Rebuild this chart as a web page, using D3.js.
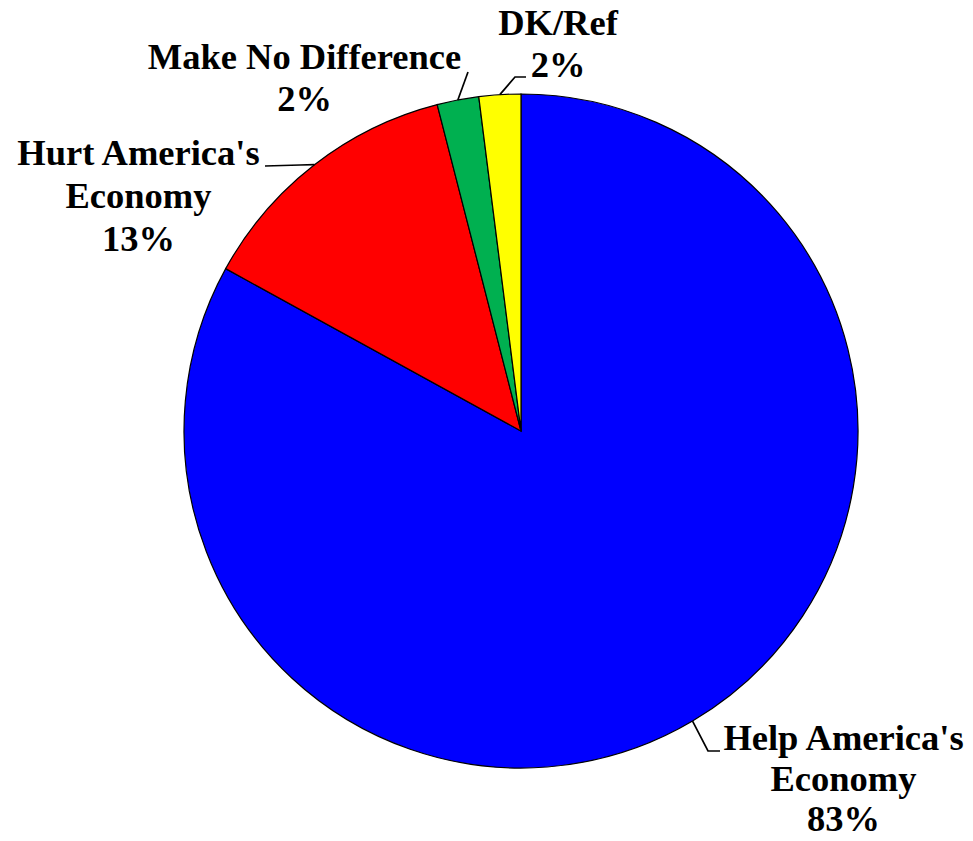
<!DOCTYPE html>
<html>
<head>
<meta charset="utf-8">
<script src="https://cdn.jsdelivr.net/npm/d3@7"></script>
<style>
  html, body { margin: 0; padding: 0; background: #fff; }
  svg { display: block; }
</style>
</head>
<body>
<svg id="chart" width="973" height="841"></svg>
<script>
// ---- data ----
const categories = ["Help America's Economy", "Hurt America's Economy", "Make No Difference", "DK/Ref"];
const labelLines = [["Help America's", "Economy"], ["Hurt America's", "Economy"], ["Make No Difference"], ["DK/Ref"]];
const values = [83, 13, 2, 2];
const colors = ["#0000FF", "#FF0000", "#00B050", "#FFFF00"];

// ---- layout (label placement, not data) ----
const cx = 521, cy = 431, radius = 337;
const fontSize = 36.5;
const fontFamily = "'Liberation Serif', 'Times New Roman', Times, 'DejaVu Serif', serif";
const labelLayout = [
  { x: 843.5, y: 750, gap: 40.5, leader: [[720, 751], [708, 751]] },
  { x: 138.5, y: 165, gap: 43, leader: [[265, 166], [300, 165]] },
  { x: 304.5, y: 69,  gap: 42, leader: [[468, 72]] },
  { x: 558,   y: 35,  gap: 42, leader: [[526, 77], [515, 77]] }
];

const svg = d3.select("#chart");
const g = svg.append("g").attr("transform", `translate(${cx},${cy})`);

const pie = d3.pie().sort(null).value(d => d)(values);
const arc = d3.arc().innerRadius(0).outerRadius(radius);

g.selectAll("path.slice")
  .data(pie)
  .join("path")
  .attr("class", "slice")
  .attr("d", arc)
  .attr("fill", (d, i) => colors[i])
  .attr("stroke", "#000")
  .attr("stroke-width", 1.2);

const edge = d => {
  const a = (d.startAngle + d.endAngle) / 2;
  return [cx + radius * Math.sin(a), cy - radius * Math.cos(a)];
};
pie.forEach((d, i) => {
  const L = labelLayout[i];
  const pts = L.leader.concat([edge(d)]);
  svg.append("path")
    .attr("d", d3.line()(pts))
    .attr("fill", "none")
    .attr("stroke", "#000")
    .attr("stroke-width", 1.7);
});

pie.forEach((d, i) => {
  const L = labelLayout[i];
  const lines = labelLines[i].concat([d3.format(".0f")(values[i]) + "%"]);
  const t = svg.append("text")
    .attr("text-anchor", "middle")
    .attr("font-family", fontFamily)
    .attr("font-weight", "bold")
    .attr("fill", "#000")
    .attr("font-size", fontSize);
  lines.forEach((s, k) => {
    t.append("tspan").attr("x", L.x).attr("y", L.y + k * L.gap).text(s);
  });
});
</script>
</body>
</html>
